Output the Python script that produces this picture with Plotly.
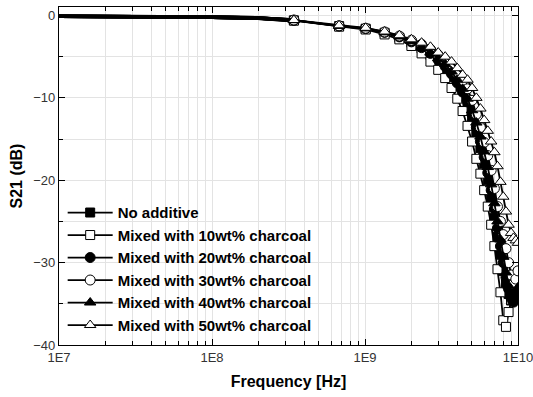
import plotly.graph_objects as go

# Frequency points in GHz (first four are the unmarked low-frequency line)
freq_ghz = [0.01, 0.03, 0.1, 0.2, 0.343, 0.677, 1.01, 1.343, 1.677, 2.01, 2.343, 2.677,
            3.01, 3.343, 3.677, 4.01, 4.343, 4.677, 5.01, 5.343, 5.677, 6.01, 6.343,
            6.677, 7.01, 7.343, 7.677, 8.01, 8.343, 8.677, 9.01, 9.343, 9.677, 10.0]
n_unmarked = 4

s21_none = [-0.1, -0.13, -0.22, -0.32, -0.6, -1.3, -1.6, -2.1, -2.7, -3.3, -4.0, -4.8,
            -5.7, -6.5, -7.5, -8.6, -9.8, -11.1, -12.6, -14.3, -16.1, -18.0, -20.0,
            -22.2, -24.6, -26.9, -29.0, -31.0, -32.6, -33.8, -34.6, -34.2, -32.8, -31.2]
s21_10 = [-0.1, -0.13, -0.22, -0.33, -0.62, -1.35, -1.7, -2.3, -2.9, -3.7, -4.6, -5.6,
          -6.6, -7.6, -8.8, -10.1, -11.6, -13.4, -15.3, -17.4, -19.2, -21.2, -23.2,
          -25.4, -28.0, -30.8, -33.6, -37.0, -37.8, -36.0, -34.5, -33.5, -33.0, -32.5]
s21_20 = [-0.1, -0.13, -0.21, -0.31, -0.58, -1.28, -1.58, -2.05, -2.6, -3.2, -3.9, -4.6,
          -5.4, -6.2, -7.1, -8.2, -9.3, -10.5, -12.0, -13.6, -15.3, -17.2, -19.1,
          -21.2, -23.5, -25.8, -28.0, -30.0, -31.8, -33.2, -34.3, -34.8, -33.8, -32.0]
s21_30 = [-0.1, -0.13, -0.2, -0.3, -0.55, -1.25, -1.55, -2.0, -2.5, -3.0, -3.5, -4.1,
          -4.8, -5.4, -6.1, -7.0, -7.9, -8.9, -10.3, -12.0, -13.6, -15.4, -17.0,
          -18.8, -21.0, -23.2, -25.0, -26.6, -28.3, -30.0, -31.5, -32.6, -32.0, -31.0]
s21_40 = [-0.1, -0.13, -0.21, -0.31, -0.57, -1.27, -1.57, -2.05, -2.55, -3.1, -3.8, -4.5,
          -5.2, -5.9, -6.8, -7.8, -8.9, -10.1, -11.5, -13.0, -14.7, -16.5, -18.4,
          -20.5, -22.8, -25.0, -27.2, -29.3, -31.2, -32.8, -34.0, -34.6, -34.0, -33.0]
s21_50 = [-0.1, -0.12, -0.2, -0.3, -0.55, -1.2, -1.5, -1.95, -2.4, -2.9, -3.3, -3.8,
          -4.5, -5.0, -5.6, -6.4, -7.2, -7.8, -8.8, -10.0, -11.3, -12.7, -14.0,
          -15.3, -16.6, -18.3, -20.2, -22.0, -23.8, -25.4, -26.4, -27.0, -27.3, -27.6]

series_names = ["No additive", "Mixed with 10wt% charcoal", "Mixed with 20wt% charcoal",
                "Mixed with 30wt% charcoal", "Mixed with 40wt% charcoal",
                "Mixed with 50wt% charcoal"]
series_values = [s21_none, s21_10, s21_20, s21_30, s21_40, s21_50]
symbols = ["square", "square-open", "circle", "circle-open", "triangle-up", "triangle-up-open"]

x_tickvals = [1e7, 1e8, 1e9, 1e10]
x_ticktext = ["1E7", "1E8", "1E9", "1E10"]
y_tickvals = [0, -10, -20, -30, -40]

freq_hz = [f * 1e9 for f in freq_ghz]

fig = go.Figure()
for i, (name, vals, sym) in enumerate(zip(series_names, series_values, symbols)):
    filled = not sym.endswith("open")
    base_sym = sym.replace("-open", "")
    fig.add_trace(go.Scatter(
        x=freq_hz[:n_unmarked + 1], y=vals[:n_unmarked + 1], mode="lines",
        line=dict(color="black", width=3.6), showlegend=False,
        legendgroup=name, hoverinfo="skip"))
    fig.add_trace(go.Scatter(
        x=freq_hz[n_unmarked:], y=vals[n_unmarked:], mode="lines+markers", name=name,
        legendgroup=name,
        line=dict(color="black", width=1.8),
        marker=dict(symbol=base_sym, size=9 if "square" in sym else 10,
                    color="black" if filled else "white",
                    line=dict(color="black", width=1))))

minor_x = [m * 10 ** e for e in range(7, 10) for m in range(2, 10)]

axis_common = dict(showline=True, linecolor="black", linewidth=1.3, mirror="ticks",
                   ticks="inside", tickcolor="black", ticklen=6, tickwidth=1,
                   gridcolor="#e3e3e3", gridwidth=1, zeroline=False, automargin=False,
                   ticklabeloverflow="allow",
                   tickfont=dict(family="Liberation Sans", size=13, color="#333"))

fig.update_layout(
    width=533, height=397,
    margin=dict(l=59, r=15, t=7, b=52),
    paper_bgcolor="white", plot_bgcolor="white",
    xaxis=dict(type="log", range=[7, 10], tickmode="array", tickvals=x_tickvals,
               ticktext=x_ticktext,
               minor=dict(tickmode="array", tickvals=minor_x, ticks="inside", ticklen=4,
                          tickcolor="black", showgrid=True, gridcolor="#e3e3e3"),
               title=dict(text="Frequency [Hz]", standoff=12,
                          font=dict(family="Liberation Sans", size=16, color="black",
                                    weight="bold")),
               **axis_common),
    yaxis=dict(range=[-40, 1.03], tickmode="array", tickvals=y_tickvals,
               minor=dict(dtick=5, tick0=0, ticks="inside", ticklen=4,
                          tickcolor="black", showgrid=True, gridcolor="#e3e3e3"),
               title=dict(text="S21 (dB)", standoff=6,
                          font=dict(family="Liberation Sans", size=16, color="black",
                                    weight="bold")),
               **axis_common),
    legend=dict(x=0.008, y=0.44, xanchor="left", yanchor="top",
                bgcolor="rgba(0,0,0,0)", tracegroupgap=0, itemwidth=45,
                font=dict(family="Liberation Sans", size=15, color="black", weight="bold")),
    showlegend=True,
)

fig.write_html("out.html")
